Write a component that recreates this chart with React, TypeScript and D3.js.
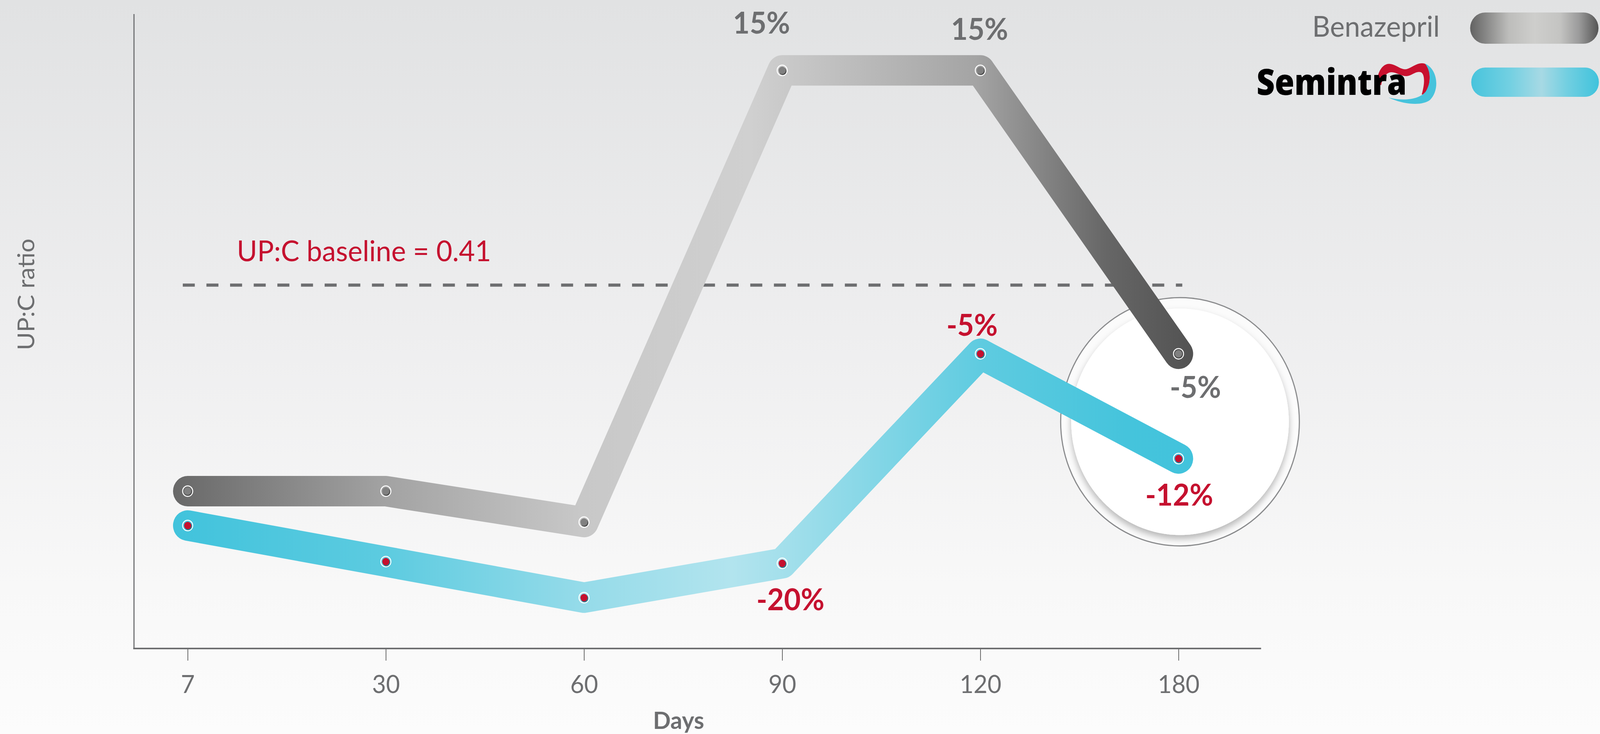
import React, { useEffect, useRef } from 'react';
import * as d3 from 'd3';

// Days of measurement
const days = ['7', '30', '60', '90', '120', '180'];
// UP:C ratio
const benazepril = [0.35, 0.35, 0.341, 0.4725, 0.4725, 0.39];
const semintra = [0.34, 0.3295, 0.319, 0.329, 0.39, 0.3595];
// change vs baseline, shown at some points
const benazeprilLabels = ['', '', '', '15%', '15%', '-5%'];
const semintraLabels = ['', '', '', '-20%', '-5%', '-12%'];
const baseline = 0.41;
const seriesNames = ['Benazepril', 'Semintra'];

// label placement relative to the point (layout only)
const benLabelOffset = [[0, 0], [0, 0], [0, 0], [-55, -94], [-2, -78], [45, 113]];
const semLabelOffset = [[0, 0], [0, 0], [0, 0], [22, 120], [-22, -46], [2, 121]];

const W = 4263;
const H = 1880;
const GREY = '#6d6e70';
const RED = '#c5112f';

const App: React.FC = () => {
  const svgRef = useRef<SVGSVGElement>(null);

  useEffect(() => {
    document.body.style.margin = '0';
    document.documentElement.style.overflow = 'hidden';
    if (!svgRef.current) return;
    const svg = d3.select(svgRef.current);
    svg.selectAll('*').remove();

    const x = d3.scalePoint<string>().domain(days).range([500, 3140]);
    const y = d3.scaleLinear().domain([0.3042, 0.4889]).range([1661, 36]);

    const defs = svg.append('defs');
    const addGrad = (id: string, stops: [number, string][], user?: [number, number]) => {
      const g = defs.append('linearGradient').attr('id', id);
      if (user) {
        g.attr('gradientUnits', 'userSpaceOnUse')
          .attr('x1', user[0]).attr('x2', user[1]).attr('y1', 0).attr('y2', 0);
      }
      stops.forEach(([o, c]) => g.append('stop').attr('offset', o).attr('stop-color', c));
      return g;
    };
    const bg = defs.append('linearGradient').attr('id', 'bg')
      .attr('x1', 0).attr('x2', 0).attr('y1', 0).attr('y2', 1);
    [[0, '#e1e2e3'], [0.45, '#eeeeef'], [0.8, '#f8f8f8'], [1, '#fcfcfc']].forEach(([o, c]) =>
      bg.append('stop').attr('offset', o as number).attr('stop-color', c as string));

    addGrad('benGrad', [
      [0, '#686868'], [0.206, '#a2a2a2'], [0.4, '#c8c8c8'], [0.566, '#d0d0d0'],
      [0.787, '#a4a4a4'], [0.915, '#666666'], [1, '#525252'],
    ], [460, 3180]);
    addGrad('semGrad', [
      [0, '#41c3dc'], [0.206, '#5ccbe0'], [0.4, '#95dbe9'], [0.548, '#b2e4ee'],
      [0.603, '#a2dfeb'], [0.794, '#5ecbe0'], [0.934, '#45c4dc'], [1, '#42c3dc'],
    ], [460, 3180]);
    addGrad('benPill', [
      [0, '#626262'], [0.3, '#bdbdbb'], [0.5, '#cececc'], [0.7, '#c4c4c2'],
      [0.85, '#9a9a9a'], [1, '#545454'],
    ]);
    addGrad('semPill', [
      [0, '#48c4dc'], [0.3, '#72d0e2'], [0.55, '#a7d9e4'], [0.75, '#72cfe1'], [1, '#40c3dc'],
    ]);
    const f = defs.append('filter').attr('id', 'diskShadow')
      .attr('x', '-20%').attr('y', '-20%').attr('width', '140%').attr('height', '140%');
    f.append('feDropShadow').attr('dx', 0).attr('dy', 10).attr('stdDeviation', 9)
      .attr('flood-color', '#000').attr('flood-opacity', 0.28);

    svg.append('rect').attr('width', W).attr('height', H).attr('fill', 'url(#bg)');

    // highlight circle around the 180-day points
    const cx = (x('180') as number) + 4;
    const cy = (y(benazepril[5]) + y(semintra[5])) / 2 + 40;
    svg.append('circle').attr('cx', cx).attr('cy', cy).attr('r', 318)
      .attr('fill', 'rgba(255,255,255,0.75)').attr('stroke', '#8a8b8d').attr('stroke-width', 3);
    svg.append('circle').attr('cx', cx).attr('cy', cy).attr('r', 290)
      .attr('fill', '#ffffff').attr('filter', 'url(#diskShadow)');

    // baseline
    svg.append('line')
      .attr('x1', 487).attr('x2', 3150)
      .attr('y1', y(baseline)).attr('y2', y(baseline))
      .attr('stroke', GREY).attr('stroke-width', 8).attr('stroke-dasharray', '32 31');
    svg.append('text')
      .attr('x', 631).attr('y', y(baseline) - 61)
      .attr('fill', RED).style('font-family', 'Lato').style('font-size', '74px')
      .text(`UP:C baseline = ${baseline}`);

    // axes
    svg.append('line').attr('x1', 357).attr('x2', 357).attr('y1', 36).attr('y2', 1662)
      .attr('stroke', GREY).attr('stroke-width', 3);
    svg.append('line').attr('x1', 355).attr('x2', 3360).attr('y1', 1661).attr('y2', 1661)
      .attr('stroke', GREY).attr('stroke-width', 4);
    const xAxis = svg.append('g').attr('transform', 'translate(0,1663)')
      .call(d3.axisBottom(x).tickSize(29).tickSizeOuter(0).tickPadding(38));
    xAxis.select('.domain').remove();
    xAxis.selectAll('.tick line').attr('stroke', '#333').attr('stroke-width', 1.5);
    xAxis.selectAll('.tick text')
      .attr('fill', GREY).style('font-family', 'Lato').style('font-size', '64px');

    svg.append('text').attr('x', 1808).attr('y', 1867).attr('text-anchor', 'middle')
      .attr('fill', GREY).style('font-family', 'Lato').style('font-weight', 700)
      .style('font-size', '62px').text('Days');
    svg.append('text').attr('transform', 'translate(92,754) rotate(-90)')
      .attr('text-anchor', 'middle').attr('fill', GREY)
      .style('font-family', 'Lato').style('font-size', '63px').text('UP:C ratio');

    // lines
    const line = d3.line<number>().x((_, i) => x(days[i]) as number).y(d => y(d));
    const series = [
      { values: benazepril, grad: 'url(#benGrad)' },
      { values: semintra, grad: 'url(#semGrad)' },
    ];
    series.forEach(s => {
      svg.append('path').datum(s.values).attr('d', line)
        .attr('fill', 'none').attr('stroke', s.grad).attr('stroke-width', 78)
        .attr('stroke-linejoin', 'round').attr('stroke-linecap', 'round');
    });

    // dots
    const drawDots = (values: number[], fill: string, shadow: string) => {
      const g = svg.append('g');
      const pts = g.selectAll('g').data(values).enter().append('g')
        .attr('transform', (d, i) => `translate(${x(days[i])},${y(d)})`);
      pts.append('circle').attr('r', 13.5).attr('fill', 'none')
        .attr('stroke', '#ffffff').attr('stroke-width', 2.5);
      pts.append('circle').attr('r', 10).attr('cx', 1.5).attr('cy', 2).attr('fill', shadow);
      pts.append('circle').attr('r', 9.5).attr('fill', fill);
    };
    drawDots(benazepril, '#808080', '#4a4a4a');
    drawDots(semintra, '#c5112f', '#2a7d8e');

    // value labels
    const drawLabels = (values: number[], labels: string[], offs: number[][], color: string) => {
      const items = values
        .map((v, i) => ({ v, i, label: labels[i] }))
        .filter(d => d.label !== '');
      svg.append('g').selectAll('text').data(items).enter().append('text')
        .attr('x', d => (x(days[d.i]) as number) + offs[d.i][0])
        .attr('y', d => y(d.v) + offs[d.i][1])
        .attr('text-anchor', 'middle').attr('fill', color)
        .style('font-family', 'Lato').style('font-weight', 700).style('font-size', '77px')
        .text(d => d.label);
    };
    drawLabels(benazepril, benazeprilLabels, benLabelOffset, GREY);
    drawLabels(semintra, semintraLabels, semLabelOffset, RED);

    // legend
    svg.append('text').attr('x', 3836).attr('y', 94).attr('text-anchor', 'end')
      .attr('fill', GREY).style('font-family', 'Lato').style('font-size', '74px')
      .text(seriesNames[0]);
    svg.append('rect').attr('x', 3917).attr('y', 32).attr('width', 342).attr('height', 80)
      .attr('rx', 40).attr('fill', 'url(#benPill)');

    const logo = svg.append('g');
    logo.append('path')
      .attr('d', 'M3668,215 C3670,178 3688,160 3706,164 C3724,168 3734,180 3748,177 C3764,172 3778,158 3796,163 C3814,172 3812,215 3800,242 L3788,242 C3797,212 3796,190 3786,185 C3772,181 3762,194 3748,195 C3730,195 3716,181 3701,186 C3688,191 3682,205 3680,218 Z')
      .attr('fill', '#c8102e');
    logo.append('path')
      .attr('d', 'M3797,163 C3832,178 3836,232 3810,256 C3788,272 3740,268 3700,250 C3742,260 3784,254 3799,234 C3814,210 3812,182 3797,163 Z')
      .attr('fill', '#46c3dc');
    logo.append('text').attr('x', 3348).attr('y', 243)
      .attr('textLength', 400).attr('lengthAdjust', 'spacingAndGlyphs')
      .attr('fill', '#000').style('font-family', 'Open Sans').style('font-weight', 800)
      .style('font-size', '92px').text(seriesNames[1]);
    svg.append('rect').attr('x', 3920).attr('y', 173).attr('width', 340).attr('height', 75)
      .attr('rx', 37).attr('fill', 'url(#semPill)');
  }, []);

  return (
    <svg
      ref={svgRef}
      viewBox={`0 0 ${W} ${H}`}
      preserveAspectRatio="none"
      style={{ position: 'fixed', left: 0, top: 0, width: '100vw', height: '100vh', display: 'block' }}
    ></svg>
  );
};

export default App;
